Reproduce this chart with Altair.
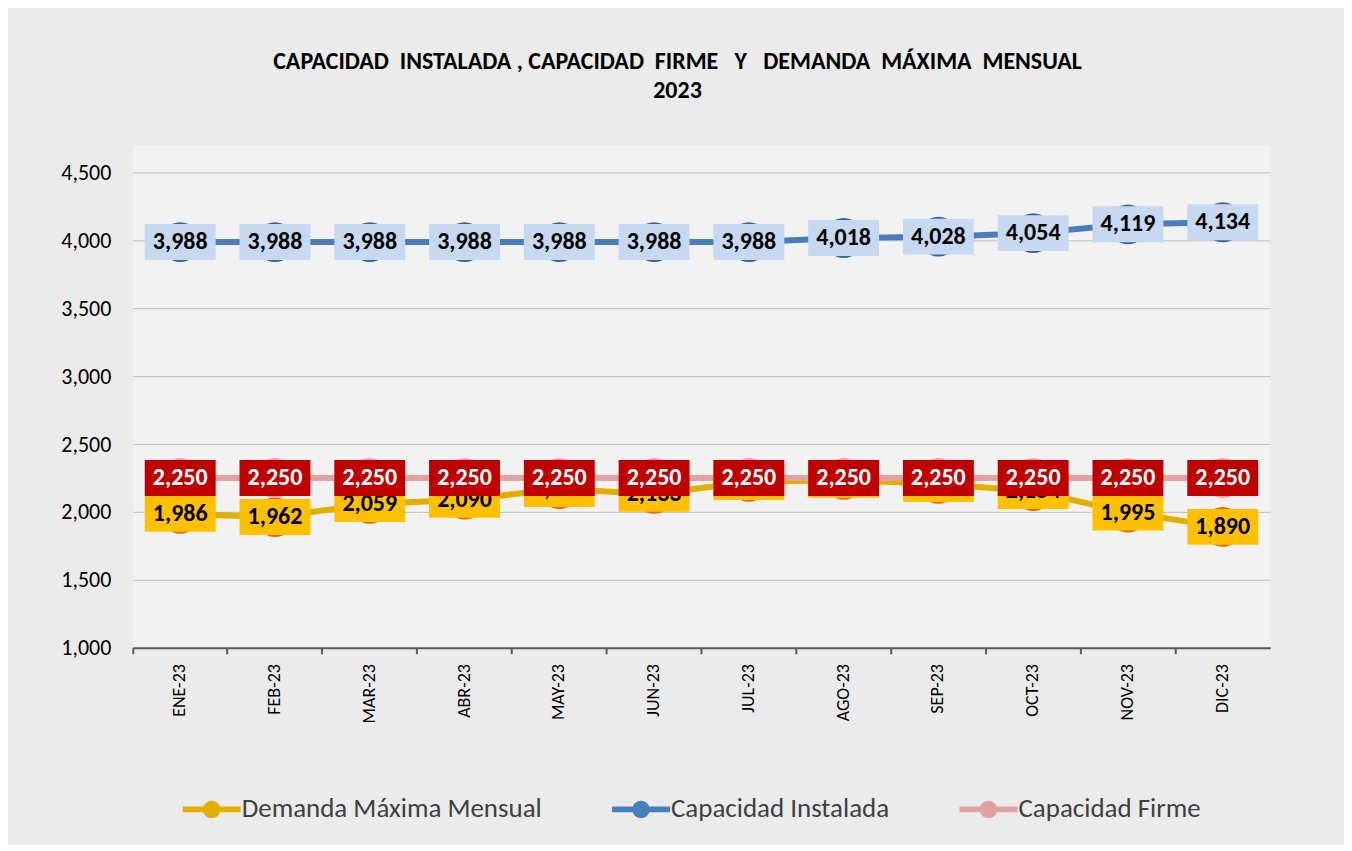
import altair as alt
import pandas as pd

months = ["ENE-23", "FEB-23", "MAR-23", "ABR-23", "MAY-23", "JUN-23",
          "JUL-23", "AGO-23", "SEP-23", "OCT-23", "NOV-23", "DIC-23"]
demanda = [1986, 1962, 2059, 2090, 2168, 2133, 2221, 2236, 2206, 2154, 1995, 1890]
instalada = [3988, 3988, 3988, 3988, 3988, 3988, 3988, 4018, 4028, 4054, 4119, 4134]
firme = [2250, 2250, 2250, 2250, 2250, 2250, 2250, 2250, 2250, 2250, 2250, 2250]

series_names = ["Demanda Máxima Mensual", "Capacidad Instalada", "Capacidad Firme"]
series_values = [demanda, instalada, firme]
line_colors = ["#E2AE00", "#4A7EBB", "#E3A2A2"]
marker_colors = ["#E46C0A", "#36649C", "#E6A6A6"]
box_colors = ["#FFC000", "#C6D9F1", "#C00000"]
text_colors = ["#000000", "#000000", "#FFFFFF"]
line_widths = [5, 6, 7]

rows = []
for i, (name, vals) in enumerate(zip(series_names, series_values)):
    for m, v in zip(months, vals):
        rows.append({"month": m, "series": name, "value": v,
                     "lcolor": line_colors[i], "mcolor": marker_colors[i],
                     "bcolor": box_colors[i], "tcolor": text_colors[i],
                     "order": i})
df = pd.DataFrame(rows)

FONT = "Carlito, 'Open Sans', sans-serif"
BOX = "M-1,-0.507L1,-0.507L1,0.507L-1,0.507Z"
LEG = ("M-1,-0.1L1,-0.1L1,0.1L-1,0.1Z "
       "M-0.3,0A0.3,0.3 0 1,1 0.3,0A0.3,0.3 0 1,1 -0.3,0Z")

x_enc = alt.X("month:N", sort=months, title=None,
              scale=alt.Scale(type="band", paddingInner=0, paddingOuter=0),
              axis=alt.Axis(bandPosition=0, labelOffset=0, labelAngle=270,
                            labelAlign="right", labelBaseline="middle",
                            labelFontSize=18, labelColor="#000000",
                            labelFont=FONT, labelPadding=10, labelOverlap=False,
                            domainColor="#595959", domainWidth=2,
                            tickColor="#595959", tickWidth=2, tickSize=6,
                            grid=False))
y_enc = alt.Y("value:Q", title=None,
              scale=alt.Scale(domain=[1000, 4700], nice=False),
              axis=alt.Axis(values=[1000, 1500, 2000, 2500, 3000, 3500, 4000, 4500],
                            format=",.0f", labelFontSize=22, labelColor="#000000",
                            labelFont=FONT, labelPadding=22, ticks=False,
                            domain=False, grid=True, gridColor="#BFBFBF",
                            gridWidth=1))

base = alt.Chart(df)

lines = base.mark_line(strokeWidth=6).encode(
    x=x_enc, y=y_enc,
    color=alt.Color("lcolor:N", scale=None),
    strokeWidth=alt.StrokeWidth("order:O", scale=alt.Scale(domain=[0, 1, 2], range=line_widths), legend=None),
    detail="series:N",
)

markers = base.mark_point(filled=True, shape="circle", size=1590, opacity=1).encode(
    x=x_enc, y=y_enc,
    color=alt.Color("mcolor:N", scale=None),
)

legend_layer = base.mark_point(filled=True, shape=LEG, size=10, opacity=0).encode(
    x=x_enc, y=y_enc,
    color=alt.Color("series:N",
                    scale=alt.Scale(domain=series_names, range=line_colors),
                    legend=alt.Legend(title=None, orient="none", direction="horizontal",
                                      legendX=50, legendY=636, symbolType=LEG,
                                      symbolSize=3364, symbolOpacity=1,
                                      symbolStrokeWidth=0, labelFontSize=27,
                                      labelFont=FONT, labelColor="#404040",
                                      labelOffset=1, columnPadding=70,
                                      labelLimit=500)),
)

layers = [lines, markers, legend_layer]
for i, name in enumerate(series_names):
    sub = alt.Chart(df[df["series"] == name])
    boxes = sub.mark_point(filled=True, shape=BOX, size=5041, opacity=1, strokeWidth=0).encode(
        x=x_enc, y=y_enc, color=alt.Color("bcolor:N", scale=None))
    texts = sub.mark_text(fontSize=24, fontWeight="bold", font=FONT,
                          align="center", baseline="middle").encode(
        x=x_enc, y=y_enc, text=alt.Text("value:Q", format=",.0f"),
        color=alt.Color("tcolor:N", scale=None))
    layers += [boxes, texts]

NB = "\u00a0"
title_line = ("CAPACIDAD" + NB * 2 + "INSTALADA" + NB + "," + NB + "CAPACIDAD" + NB * 2 + "FIRME"
              + NB * 3 + "Y" + NB * 3 + "DEMANDA" + NB * 2 + "MÁXIMA" + NB * 2 + "MENSUAL")

chart = alt.layer(*layers).properties(
    width=1139, height=503,
    autosize=alt.AutoSizeParams(type="none"),
    padding={"left": 125, "top": 137, "right": 74, "bottom": 197},
    title=alt.Title([title_line, "2023"],
                    anchor="middle", frame="group", dx=-24, offset=42,
                    fontSize=24, fontWeight="bold", font=FONT, color="#000000",
                    lineHeight=30),
).configure(background="#EBEBEB").configure_view(fill="#F2F2F2", strokeWidth=0)

chart.save("out.html", embed_options={"renderer": "svg", "actions": False})
